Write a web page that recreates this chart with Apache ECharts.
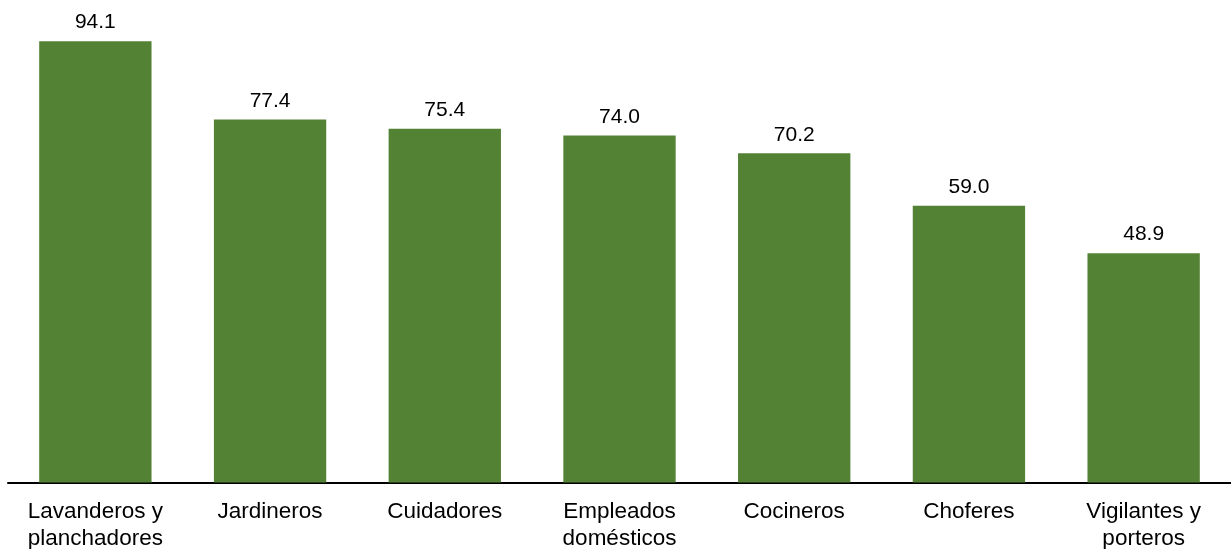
<!DOCTYPE html>
<html>
<head>
<meta charset="utf-8">
<script src="https://cdn.jsdelivr.net/npm/echarts@6/dist/echarts.min.js"></script>
<style>html,body{margin:0;padding:0;background:#fff;}#c{width:1231px;height:549px;}</style>
</head>
<body>
<div id="c"></div>
<script>
const categories = ["Lavanderos y\nplanchadores", "Jardineros", "Cuidadores", "Empleados\ndomésticos", "Cocineros", "Choferes", "Vigilantes y\nporteros"];
const values = [94.1, 77.4, 75.4, 74.0, 70.2, 59.0, 48.9];

const chart = echarts.init(document.getElementById('c'));
chart.setOption({
  animation: false,
  grid: {left: 8, right: 0, top: 13.5, bottom: 66.5, containLabel: false, outerBoundsMode: 'none'},
  xAxis: {
    type: 'category',
    data: categories,
    axisLine: {show: true, lineStyle: {color: '#000', width: 2}},
    axisTick: {show: false},
    axisLabel: {color: '#000', fontFamily: 'Liberation Sans, Arial, sans-serif', fontSize: 22.5, lineHeight: 27, margin: 16, interval: 0}
  },
  yAxis: {
    type: 'value', min: 0, max: 100,
    show: false,
    splitLine: {show: false}
  },
  series: [{
    type: 'bar',
    data: values,
    barWidth: '64.3%',
    itemStyle: {color: '#548235'},
    label: {show: true, position: 'top', distance: 8, color: '#000', fontFamily: 'Liberation Sans, Arial, sans-serif', fontSize: 21,
      formatter: p => p.value.toFixed(1)}
  }]
});
</script>
</body>
</html>
